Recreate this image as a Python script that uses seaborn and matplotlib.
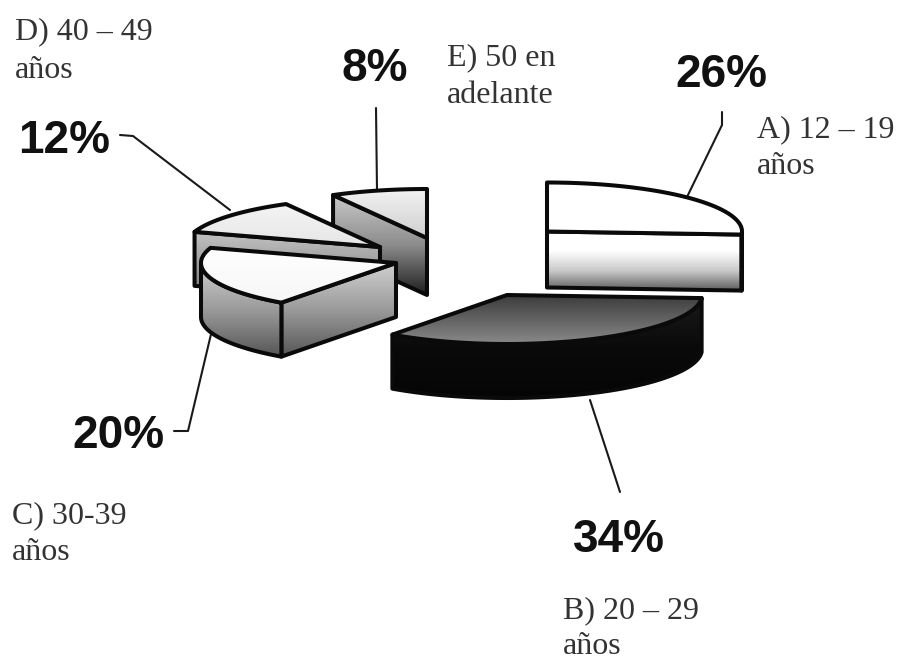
import numpy as np
import matplotlib
matplotlib.use("Agg")
import matplotlib.pyplot as plt
from matplotlib.patches import Polygon
import seaborn as sns

# ---- data -------------------------------------------------------------
categories = ["A) 12 – 19\naños", "B) 20 – 29\naños", "C) 30-39\naños",
              "D) 40 – 49\naños", "E) 50 en\nadelante"]
values = [26, 34, 20, 12, 8]
pct_labels = ["26%", "34%", "20%", "12%", "8%"]

# ---- layout (pixel space of the picture) ------------------------------
apex_x = [547, 507, 396, 380, 427]
apex_y = [231.5, 295, 263, 247, 238]
depths = [56, 54, 54, 54, 57]
RX, RY = 195, 49
cat_pos = [(757, 137), (563, 618), (12, 523), (15, 39), (447, 65)]
line_gap = [37, 36, 37, 39, 38]
pct_pos = [(721.5, 87), (619, 552), (118, 448), (64.5, 153), (374.5, 81)]
leaders_x = [[722, 722, 687], [620, 590], [174, 188, 212], [120, 133, 230], [376, 377]]
leaders_y = [[112, 125, 197], [492, 400], [431, 431, 330], [135, 136, 210], [108, 190]]

top_colors = [["#ffffff", "#ffffff"], ["#3c3c3c", "#8a8a8a"], ["#ffffff", "#f6f6f6"],
              ["#f4f4f4", "#e6e6e6"], ["#f2f2f2", "#cfcfcf"]]
side_colors = [["#ffffff", "#ffffff", "#c8c8c8", "#5a5a5a"],
               ["#1a1a1a", "#0a0a0a", "#050505"],
               ["#d0d0d0", "#9a9a9a", "#555555"],
               ["#c4c4c4", "#9c9c9c", "#707070"],
               ["#c8c8c8", "#8c8c8c", "#1e1e1e"]]

sns.set_theme(style="white")
plt.rcParams["font.family"] = ["Liberation Serif", "DejaVu Sans"]

fig, ax = plt.subplots(figsize=(9, 6.61), dpi=100)
ax.set_position([0, 0, 1, 1])
ax.set_axis_off()
z = [2]


def face(pts, colors):
    """Filled polygon with a vertical grey gradient and a heavy outline."""
    pts = np.asarray(pts)
    z[0] += 1
    cmap = sns.blend_palette(colors, as_cmap=True)
    grad = np.linspace(0, 1, 256).reshape(-1, 1)
    y0, y1 = pts[:, 1].min(), pts[:, 1].max()
    im = ax.imshow(grad, cmap=cmap, vmin=0, vmax=1, aspect="auto", origin="upper",
                   extent=(pts[:, 0].min(), pts[:, 0].max(), y1, y0), zorder=z[0])
    poly = Polygon(pts, closed=True, facecolor="none", edgecolor="#0a0a0a", lw=2.9,
                   joinstyle="round", zorder=z[0] + 0.5)
    ax.add_patch(poly)
    im.set_clip_path(poly)


def draw_slice(i, start, sweep):
    cx, cy, d = apex_x[i], apex_y[i], depths[i]
    end = start - sweep
    th = np.radians(np.linspace(start, end, 120))
    ax_x = cx + RX * np.cos(th)
    ax_y = cy - RY * np.sin(th)
    # radial cut faces turned towards the viewer
    if np.cos(np.radians(start)) < -1e-6:
        face([(cx, cy), (ax_x[0], ax_y[0]), (ax_x[0], ax_y[0] + d), (cx, cy + d)], side_colors[i])
    if np.cos(np.radians(end)) > 1e-6:
        face([(cx, cy), (ax_x[-1], ax_y[-1]), (ax_x[-1], ax_y[-1] + d), (cx, cy + d)], side_colors[i])
    # rim: the part of the arc on the viewer's side
    front = np.sin(th) < 0
    if front.any():
        fx, fy = ax_x[front], ax_y[front]
        rim = np.column_stack([np.r_[fx, fx[::-1]], np.r_[fy, fy[::-1] + d]])
        face(rim, side_colors[i])
    # top surface
    top = np.column_stack([np.r_[cx, ax_x], np.r_[cy, ax_y]])
    face(top, top_colors[i])


# The slices are swept clockwise from 12 o'clock and painted back to front.
total = sum(values)
starts = 90 - np.cumsum([0] + values[:-1]) * 360 / total
sweeps = [v * 360 / total for v in values]
for i in [4, 3, 2, 0, 1]:
    draw_slice(i, starts[i], sweeps[i])

for xs, ys in zip(leaders_x, leaders_y):
    ax.plot(xs, ys, color="#1a1a1a", lw=1.5, zorder=1, solid_capstyle="round")

for label, (x, y), gap in zip(categories, cat_pos, line_gap):
    first, second = label.split("\n")
    ax.text(x, y, first, fontsize=23, color="#333333", ha="left", va="baseline",
            family=["Liberation Serif", "DejaVu Sans"])
    ax.text(x, y + gap, second, fontsize=23, color="#333333", ha="left", va="baseline",
            family=["Liberation Serif", "DejaVu Sans"])

for label, (x, y) in zip(pct_labels, pct_pos):
    ax.text(x, y, label, fontsize=33, fontweight="bold", color="#111111", ha="center", va="baseline",
            family=["Liberation Sans", "DejaVu Sans"])

ax.set_xlim(0, 900)
ax.set_ylim(661, 0)
fig.savefig("out.png", dpi=100, facecolor="white")
